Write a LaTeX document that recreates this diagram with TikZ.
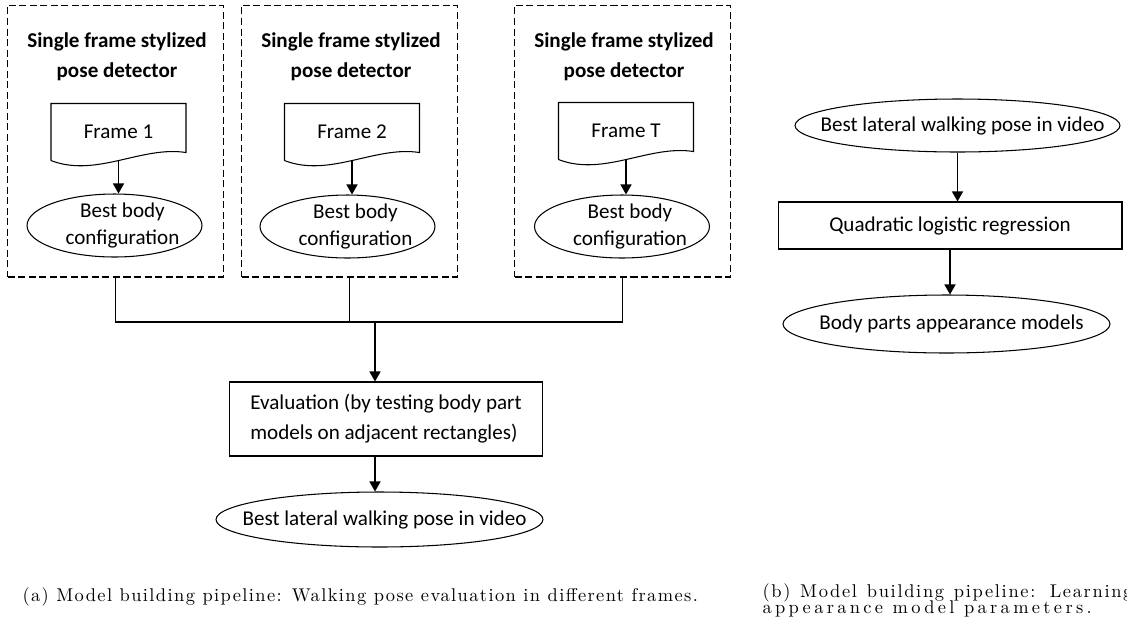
\documentclass[tikz,border=0pt]{standalone}
\usepackage{fontspec}
\setmainfont{Carlito}
\newfontfamily\capfont{lmroman10-regular.otf}[LetterSpace=7.5]
\newfontfamily\capfontb{lmroman10-regular.otf}[LetterSpace=9]
\newfontfamily\capfontc{lmroman10-regular.otf}[LetterSpace=18]
\usetikzlibrary{shapes.geometric,arrows.meta,positioning}

\tikzset{
  visio/.style={font=\fontsize{12}{17}\selectfont},
  detector/.style={draw, dash pattern=on 4pt off 2pt, minimum width=4.32cm, minimum height=5.44cm},
  dettitle/.style={font=\bfseries\fontsize{12}{17}\selectfont, align=center},
  framedoc/.style={visio, minimum width=2.68cm, minimum height=1.12cm,
    append after command={\pgfextra{\let\docnode\tikzlastnode
      \draw (\docnode.south west) -- (\docnode.north west) -- (\docnode.north east)
        -- ([yshift=0.16cm]\docnode.south east)
        .. controls ([xshift=-0.88cm,yshift=0.3cm]\docnode.south east)
        and ([xshift=0.9cm,yshift=-0.35cm]\docnode.south west) .. (\docnode.south west);}}},
  bodyoval/.style={draw, ellipse, inner sep=0pt, minimum width=3.5cm, minimum height=1.26cm,
    label={[visio, font=\fontsize{12}{15.3}\selectfont, align=center, xshift=0.16cm]center:#1}},
  wideoval/.style={draw, ellipse, inner sep=0pt, minimum width=6.54cm, minimum height=1.1cm,
    label={[visio, xshift=0.1cm]center:#1}},
  stepbox/.style={draw, visio, inner sep=0pt},
  flow/.style={-{Triangle[width=0.22cm,length=0.2cm]}, line width=0.8pt},
  joinline/.style={line width=0.7pt},
  caption/.style={anchor=base west, inner sep=0pt}
}

\begin{document}
\begin{tikzpicture}[x=0.02cm, y=-0.02cm, line width=0.6pt]
  \useasboundingbox (0,0) rectangle (1127,630);

  % three single frame detectors
  \node[detector] (box1) at (115.5,141) {};
  \node[detector] (box2) at (349.5,141) {};
  \node[detector] (box3) at (622.5,141) {};
  \node[dettitle] (title1) at (117,57) {Single frame stylized\\pose detector};
  \node[dettitle] (title2) at (351,57) {Single frame stylized\\pose detector};
  \node[dettitle] (title3) at (624,57) {Single frame stylized\\pose detector};

  \node[framedoc] (frame1) at (118.5,132) {Frame 1};
  \node[framedoc] (frame2) at (352,132) {Frame 2};
  \node[framedoc] (frameT) at (626,131) {Frame T};

  \node[bodyoval={Best body\\configuration}] (ell1) at (114.5,225.5) {};
  \node[bodyoval={Best body\\configuration}] (ell2) at (347.5,226.5) {};
  \node[bodyoval={Best body\\configuration}] (ell3) at (622,226.5) {};

  \draw[flow] (frame1.south) -- (frame1.south |- ell1.north);
  \draw[flow] (frame2.south) -- (frame2.south |- ell2.north);
  \draw[flow] (frameT.south) -- (frameT.south |- ell3.north);

  % evaluation over all frames
  \coordinate (join) at (375,322);
  \node[stepbox, minimum width=6.28cm, minimum height=1.48cm, align=left] (evalbox) at (386,419)
    {Evaluation (by testing body part\\models on adjacent rectangles)};
  \node[wideoval={Best lateral walking pose in video}] (best) at (379.5,519.5) {};

  \draw[joinline] (box1.south) |- (box3.south |- join) -- (box3.south);
  \draw[joinline] (box2.south) -- (box2.south |- join);
  \draw[flow] (join) -- (join |- evalbox.north);
  \draw[flow] (evalbox.south -| join) -- (join |- best.north);

  % learning the appearance models
  \node[wideoval={Best lateral walking pose in video}, minimum width=6.5cm, minimum height=1.06cm] (rtop) at (957.5,125.5) {};
  \node[stepbox, minimum width=6.88cm, minimum height=0.94cm] (quad) at (950,225.5) {Quadratic logistic regression};
  \node[wideoval={Body parts appearance models}, minimum height=1.16cm] (rbot) at (946.5,324) {};

  \draw[flow] (rtop.south) -- (rtop.south |- quad.north);
  \draw[flow] (quad.south) -- (quad.south |- rbot.north);

  % captions
  \node[caption, font=\capfont\fontsize{10.5}{12}\selectfont] (capa) at (22,601)
    {(a) Model building pipeline: Walking pose evaluation in different frames.};
  \node[caption, font=\capfontb\fontsize{10.5}{12}\selectfont] (capb) at (762,597)
    {\makebox[7.4cm][s]{(b) Model building pipeline: Learning}};
  \node[caption, font=\capfontc\fontsize{10.5}{12}\selectfont] (capb2) at (762,613)
    {appearance model parameters.};
\end{tikzpicture}
\end{document}
